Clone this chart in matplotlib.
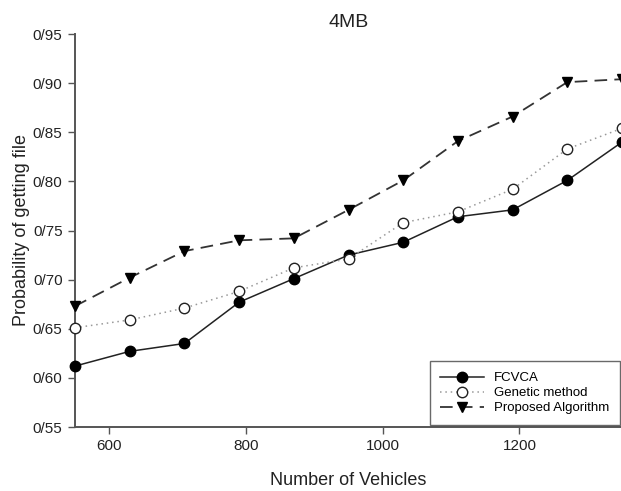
import matplotlib
matplotlib.use("Agg")
import matplotlib.pyplot as plt
from matplotlib.ticker import FuncFormatter

plt.rcParams['font.family'] = ['Liberation Sans', 'DejaVu Sans']

# Number of vehicles
vehicles = [550, 630, 710, 790, 870, 950, 1030, 1110, 1190, 1270, 1350]

# Probability of getting file (4MB)
fcvca = [0.612, 0.627, 0.635, 0.677, 0.701, 0.725, 0.738, 0.764, 0.771, 0.801, 0.840]
genetic = [0.651, 0.659, 0.671, 0.688, 0.712, 0.721, 0.758, 0.769, 0.792, 0.833, 0.854]
proposed = [0.673, 0.702, 0.729, 0.740, 0.742, 0.771, 0.801, 0.841, 0.866, 0.901, 0.904]

y_ticks = [0.55, 0.60, 0.65, 0.70, 0.75, 0.80, 0.85, 0.90, 0.95]
x_ticks = [600, 800, 1000, 1200]

fig = plt.figure(figsize=(6.21, 4.91), dpi=100)
ax = fig.add_axes([75 / 621, 1 - 427 / 491, 547 / 621, 393 / 491])

ax.plot(vehicles, fcvca, color='#222222', lw=1.1, ls='-', marker='o',
        ms=7.5, mfc='black', mec='black', label='FCVCA', clip_on=False, zorder=3)
ax.plot(vehicles, genetic, color='#999999', lw=1.1, ls=(0, (1, 2.5)), marker='o',
        ms=7.5, mfc='white', mec='#222222', mew=1.0, label='Genetic method',
        clip_on=False, zorder=3)
ax.plot(vehicles, proposed, color='#333333', lw=1.3, ls=(0, (7, 4)), marker='v',
        ms=7.5, mfc='black', mec='black', label='Proposed Algorithm',
        clip_on=False, zorder=3)

ax.set_xlim(550, 1350)
ax.set_ylim(0.55, 0.95)
ax.set_xticks(x_ticks)
ax.set_yticks(y_ticks)
ax.yaxis.set_major_formatter(FuncFormatter(lambda v, p: f"{v:.2f}".replace("0.", "0/")))

for s in ['top', 'right']:
    ax.spines[s].set_visible(False)
for s in ['left', 'bottom']:
    ax.spines[s].set_color('#555555')
    ax.spines[s].set_linewidth(1.4)
ax.tick_params(axis='both', direction='out', length=5, width=1, color='#555555',
               labelsize=11, labelcolor='#222222', pad=4)

ax.set_title('4MB', fontsize=14, color='#222222', pad=5)
ax.set_xlabel('Number of Vehicles', fontsize=13, color='#222222', labelpad=13)
ax.set_ylabel('Probability of getting file', fontsize=13, color='#222222', labelpad=2)

leg = ax.legend(loc='lower right', fontsize=9.5, frameon=True, fancybox=False,
                edgecolor='#444444', handlelength=3.3, handletextpad=0.8,
                borderpad=0.8, labelspacing=0.22, borderaxespad=0,
                bbox_to_anchor=(0.9965, 0.005))
leg.get_frame().set_linewidth(1.0)

fig.savefig('out.png', dpi=100)
